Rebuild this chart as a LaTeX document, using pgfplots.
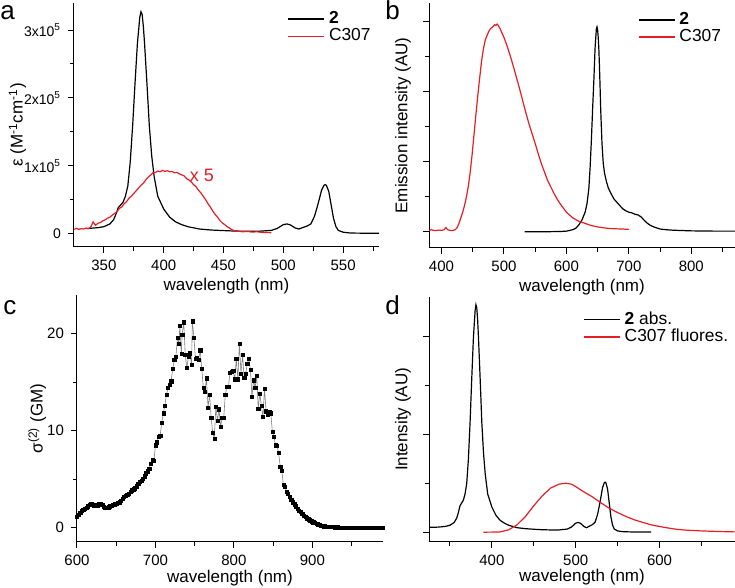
\documentclass[border=0pt]{standalone}
\usepackage{fontspec}
\setmainfont{Liberation Sans}
\usepackage{pgfplots}
\pgfplotsset{compat=1.18}
\definecolor{myred}{RGB}{228,30,36}
\pgfplotsset{
  legend image code/.code={\draw[#1] (0pt,0pt) -- (18pt,0pt);},
  orig/.style={
    scale only axis,
    axis lines=left,
    axis line style={-, line width=0.5pt},
    tick align=outside,
    tick style={black, line width=0.5pt},
    major tick length=3pt,
    minor tick length=1.8pt,
    tick label style={font=\fontsize{7.5}{9}\selectfont},
    label style={font=\fontsize{8.5}{10}\selectfont},
    /pgf/number format/assume math mode=true,
    /pgf/number format/1000 sep={},
    legend style={draw=none, fill=none, font=\fontsize{8.7}{10}\selectfont, row sep=-3pt, anchor=north west, legend cell align=left},
    every axis plot/.append style={line width=0.6pt},
    xlabel={wavelength (nm)},
  }
}
\begin{document}
\begin{tikzpicture}
% ---------------- panel a
\begin{axis}[orig, at={(37pt,170.5pt)}, anchor=south west, width=152.5pt, height=122pt,
  xmin=325, xmax=580, ymin=-20000, ymax=340000,
  xtick={350,400,450,500,550}, minor xtick={375,425,475,525,575},
  ytick={0,100000,200000,300000}, minor ytick={50000,150000,250000},
  scaled y ticks=false,
  yticklabel style={font=\fontsize{7}{8}\selectfont},
  yticklabels={0,1x10\textsuperscript{5},2x10\textsuperscript{5},3x10\textsuperscript{5}},
  ylabel={ε (M\textsuperscript{-1}cm\textsuperscript{-1})},
  ylabel style={at={(axis description cs:-0.185,0.5)}, anchor=center},
  xlabel style={at={(axis description cs:0.5,-0.16)}, anchor=center},
  legend style={at={(axis description cs:0.68,1.0)}}]
\addplot[black] coordinates {
(336,7300)(340,7800)(345,8500)(350,10000)(355,14000)(358,20000)(360,28000)(362,38000)(364,42000)(366,46000)(368,55000)(370,70000)(372,105000)(374,158000)(376,221000)(378,280000)(380,319000)(381,327000)(382,323000)(383,305000)(384,280000)(386,221000)(388,158000)(390,114000)(392,84000)(395,55000)(400,36000)(405,24000)(410,17000)(415,13000)(420,10000)(430,6500)(440,5000)(450,4200)(460,3500)(470,3200)(480,3300)(490,4500)(495,7500)(500,13000)(503,14000)(506,12500)(510,8000)(513,6500)(516,8500)(520,11000)(523,14000)(526,25000)(528,37000)(530,50000)(532,64000)(534,71000)(535,72000)(536,71000)(538,62000)(540,42000)(542,22000)(544,10000)(546,4500)(550,1800)(555,800)(560,500)(570,300)(580,200)};
\addlegendentry{\textbf{2}}
\addplot[myred] coordinates {
(325,6000)(327,7500)(329,6000)(331,7000)(333,6500)(335,8000)(337,7000)(339,9500)(341,17000)(343,12000)(345,15000)(347,16000)(349,18500)(351,20000)(353,22500)(355,24000)(357,27000)(359,29500)(361,32000)(363,37000)(365,39000)(367,44000)(369,47000)(371,52000)(373,55000)(375,59000)(377,63000)(379,67000)(381,71000)(383,74000)(385,79000)(387,83000)(389,86000)(391,89500)(393,90000)(395,92000)(397,91000)(399,93000)(401,91500)(403,92500)(405,91000)(407,91500)(409,89500)(411,90000)(413,88000)(415,86500)(417,85000)(419,81000)(421,79000)(423,76000)(425,72000)(427,69000)(429,64000)(431,60000)(433,55000)(435,50000)(437,44000)(439,39000)(441,33000)(443,28000)(445,24000)(447,19000)(449,15500)(451,13000)(453,10000)(455,8000)(457,5500)(459,4000)(462,3500)(466,2500)(470,3000)(474,2000)(478,2500)(482,1500)(486,1500)(490,1000)};
\addlegendentry{C307}
\node[myred, font=\fontsize{9}{10}\selectfont] at (axis cs:432,85000) {x 5};
\end{axis}
% ---------------- panel b
\begin{axis}[orig, at={(214.5pt,170pt)}, anchor=south west, width=153pt, height=122.5pt,
  xmin=380, xmax=870, ymin=-0.23, ymax=3.26,
  xtick={400,500,600,700,800}, minor xtick={450,550,650,750,850},
  ytick={0,1,2,3}, minor ytick={0.5,1.5,2.5}, yticklabels={},
  ylabel={Emission intensity (AU)},
  ylabel style={at={(axis description cs:-0.085,0.5)}, anchor=center},
  xlabel style={at={(axis description cs:0.5,-0.16)}, anchor=center},
  legend style={at={(axis description cs:0.663,0.996)}}]
\addplot[black] coordinates {
(533,0)(550,0)(570,0.002)(590,0.005)(600,0.01)(610,0.03)(615,0.05)(620,0.1)(625,0.17)(630,0.28)(633,0.4)(636,0.62)(638,0.92)(640,1.3)(642,1.75)(644,2.16)(646,2.63)(648,2.89)(649,2.92)(650,2.88)(651,2.77)(652,2.6)(653,2.35)(654,2.05)(655,1.73)(657,1.26)(659,0.98)(661,0.84)(664,0.72)(667,0.63)(670,0.57)(673,0.52)(676,0.47)(680,0.43)(685,0.38)(690,0.33)(695,0.3)(700,0.28)(705,0.27)(710,0.25)(715,0.24)(720,0.21)(725,0.16)(730,0.12)(735,0.09)(740,0.07)(745,0.055)(750,0.04)(760,0.03)(770,0.024)(780,0.02)(800,0.014)(820,0.012)(840,0.01)(870,0.01)};
\addlegendentry{\textbf{2}}
\addplot[myred] coordinates {
(380,0.02)(384,0.03)(388,0.02)(392,0.02)(396,0.025)(400,0.02)(404,0.03)(407,0.06)(410,0.03)(414,0.02)(418,0.02)(422,0.03)(425,0.06)(428,0.12)(431,0.2)(434,0.28)(437,0.38)(440,0.5)(443,0.65)(446,0.85)(449,1.1)(452,1.38)(455,1.66)(458,1.93)(461,2.18)(464,2.42)(467,2.6)(470,2.73)(473,2.8)(476,2.86)(479,2.9)(482,2.92)(485,2.95)(487,2.94)(489,2.96)(491,2.94)(494,2.89)(497,2.83)(500,2.77)(505,2.65)(510,2.51)(515,2.36)(520,2.2)(525,2.04)(530,1.87)(535,1.7)(540,1.54)(545,1.4)(550,1.26)(555,1.11)(560,0.97)(565,0.85)(570,0.73)(575,0.64)(580,0.55)(585,0.47)(590,0.40)(595,0.34)(600,0.28)(610,0.2)(620,0.15)(630,0.12)(640,0.09)(650,0.07)(660,0.057)(670,0.047)(680,0.043)(690,0.04)(700,0.035)};
\addlegendentry{C307}
\end{axis}
% ---------------- panel c
\begin{axis}[orig, at={(38.5pt,23pt)}, anchor=south west, width=153pt, height=123.5pt,
  xmin=600, xmax=990, ymin=-1.5, ymax=24,
  xtick={600,700,800,900}, minor xtick={650,750,850,950},
  ytick={0,10,20}, minor ytick={5,15},
  ylabel={σ\textsuperscript{(2)} (GM)},
  ylabel style={at={(axis description cs:-0.13,0.5)}, anchor=center},
  xlabel style={at={(axis description cs:0.5,-0.145)}, anchor=center}]
\addplot[gray, line width=0.3pt, mark=square*, mark size=0.8pt, mark options={black, fill=black, line width=0.2pt}] coordinates {
(600,1.1)(602,1.3)(604,1.5)(606,1.7)(608,1.8)(610,1.9)(612,2.0)(614,2.2)(616,2.35)(618,2.4)(620,2.35)(622,2.3)(624,2.35)(626,2.3)(628,2.4)(630,2.45)(632,2.35)(634,2.15)(636,2.05)(638,2.0)(640,2.1)(642,2.2)(644,2.25)(646,2.35)(648,2.4)(650,2.45)(652,2.55)(654,2.6)(656,2.75)(658,3.0)(660,3.15)(662,3.25)(664,3.35)(666,3.5)(668,3.7)(670,3.85)(672,3.95)(674,4.05)(676,4.25)(678,4.5)(680,4.7)(682,4.85)(684,5.0)(686,5.3)(688,5.6)(690,5.8)(692,6.1)(694,6.6)(696,7.0)(698,6.9)(700,8.5)(702,8.8)(704,9.4)(706,9.5)(708,10.8)(710,11.8)(712,12.6)(714,13.7)(716,14.4)(718,14.7)(720,15.1)(722,16.4)(724,17.3)(726,17.6)(728,19.6)(730,19.0)(731,20.8)(733,17.9)(734,19.9)(736,21.2)(738,17.8)(740,16.5)(742,17.6)(744,18.0)(746,16.8)(747,21.3)(749,19.6)(751,17.4)(753,17.5)(755,17.3)(757,18.3)(759,16.4)(761,14.4)(763,14.0)(765,15.4)(767,12.4)(769,13.7)(771,11.3)(773,9.8)(775,9.2)(777,12.5)(779,11.0)(781,12.2)(783,10.4)(785,11.3)(787,11.3)(789,13.7)(791,14.5)(793,14.5)(795,16.0)(797,16.1)(799,16.2)(801,15.3)(803,17.4)(805,15.3)(807,19.0)(809,15.9)(811,17.8)(813,15.5)(815,15.9)(817,16.9)(819,17.4)(821,16.3)(823,13.5)(825,15.2)(827,14.4)(829,15.7)(831,12.3)(833,13.8)(835,12.6)(837,11.4)(839,14.3)(841,12.0)(843,11.7)(845,11.9)(847,11.8)(849,9.9)(851,9.4)(853,8.5)(855,8.4)(857,7.7)(859,6.3)(861,5.9)(863,4.4)(865,4.2)(867,3.7)(869,3.5)(871,3.2)(873,2.9)(875,2.6)(877,2.4)(879,2.2)(881,1.9)(883,1.7)(885,1.6)(887,1.4)(889,1.25)(891,1.1)(893,0.95)(895,0.85)(897,0.75)(899,0.65)(901,0.55)(903,0.47)(905,0.4)(907,0.33)(909,0.27)(911,0.22)(913,0.17)(915,0.13)(917,0.1)(919,0.08)(921,0.06)(923,0.05)(926,0.04)(929,0.03)(932,0.02)(935,0.01)(938,0.01)(941,0)(944,0)(947,0)(950,0)(953,0)(956,0)(959,0)(962,0)(965,0)(968,0)(971,0)(974,0)(977,0)(980,0)(983,0)(986,0)(989,0)};
\end{axis}
% ---------------- panel d
\begin{axis}[orig, at={(214.5pt,23pt)}, anchor=south west, width=153pt, height=122.5pt,
  xmin=325, xmax=690, ymin=-0.1, ymax=2.4,
  xtick={400,500,600}, minor xtick={350,450,550,650},
  ytick={0,1,2}, minor ytick={0.5,1.5}, yticklabels={},
  ylabel={Intensity (AU)},
  ylabel style={at={(axis description cs:-0.085,0.5)}, anchor=center},
  xlabel style={at={(axis description cs:0.5,-0.145)}, anchor=center},
  legend style={at={(axis description cs:0.484,0.975)}}]
\addplot[black] coordinates {
(325,0.05)(330,0.05)(336,0.052)(340,0.055)(345,0.06)(350,0.071)(355,0.099)(358,0.142)(360,0.199)(362,0.27)(364,0.298)(366,0.327)(368,0.39)(370,0.497)(372,0.746)(374,1.12)(376,1.57)(378,1.99)(380,2.26)(381,2.32)(382,2.29)(383,2.17)(384,1.99)(386,1.57)(388,1.12)(390,0.81)(392,0.6)(395,0.39)(400,0.256)(405,0.17)(410,0.12)(415,0.092)(420,0.071)(430,0.046)(440,0.036)(450,0.03)(460,0.025)(470,0.023)(480,0.023)(490,0.032)(495,0.053)(500,0.092)(503,0.1)(506,0.089)(510,0.057)(513,0.046)(516,0.06)(520,0.078)(523,0.1)(526,0.178)(528,0.263)(530,0.355)(532,0.454)(534,0.504)(535,0.511)(536,0.504)(538,0.44)(540,0.298)(542,0.156)(544,0.071)(546,0.032)(550,0.013)(555,0.006)(560,0.004)(570,0.002)(580,0.001)(590,0.001)};
\addlegendentry{\textbf{2} abs.}
\addplot[myred] coordinates {
(390,0)(400,0.001)(410,0.003)(420,0.024)(430,0.075)(440,0.16)(450,0.27)(460,0.37)(470,0.45)(480,0.49)(488,0.5)(495,0.49)(500,0.465)(510,0.41)(520,0.36)(530,0.3)(540,0.245)(550,0.2)(560,0.16)(570,0.126)(580,0.1)(590,0.075)(600,0.058)(610,0.043)(620,0.03)(630,0.022)(640,0.017)(650,0.013)(660,0.01)(675,0.006)(690,0.003)};
\addlegendentry{C307 fluores.}
\end{axis}
% panel letters
\node[anchor=base west, inner sep=0pt, font=\fontsize{13}{15}\selectfont] at (0pt,284pt) {a};
\node[anchor=base west, inner sep=0pt, font=\fontsize{13}{15}\selectfont] at (192.5pt,284pt) {b};
\node[anchor=base west, inner sep=0pt, font=\fontsize{13}{15}\selectfont] at (1.5pt,136.5pt) {c};
\node[anchor=base west, inner sep=0pt, font=\fontsize{13}{15}\selectfont] at (192.5pt,136.5pt) {d};
\pgfresetboundingbox
\useasboundingbox (0,0) rectangle (367.5pt,294pt);
\end{tikzpicture}
\end{document}
